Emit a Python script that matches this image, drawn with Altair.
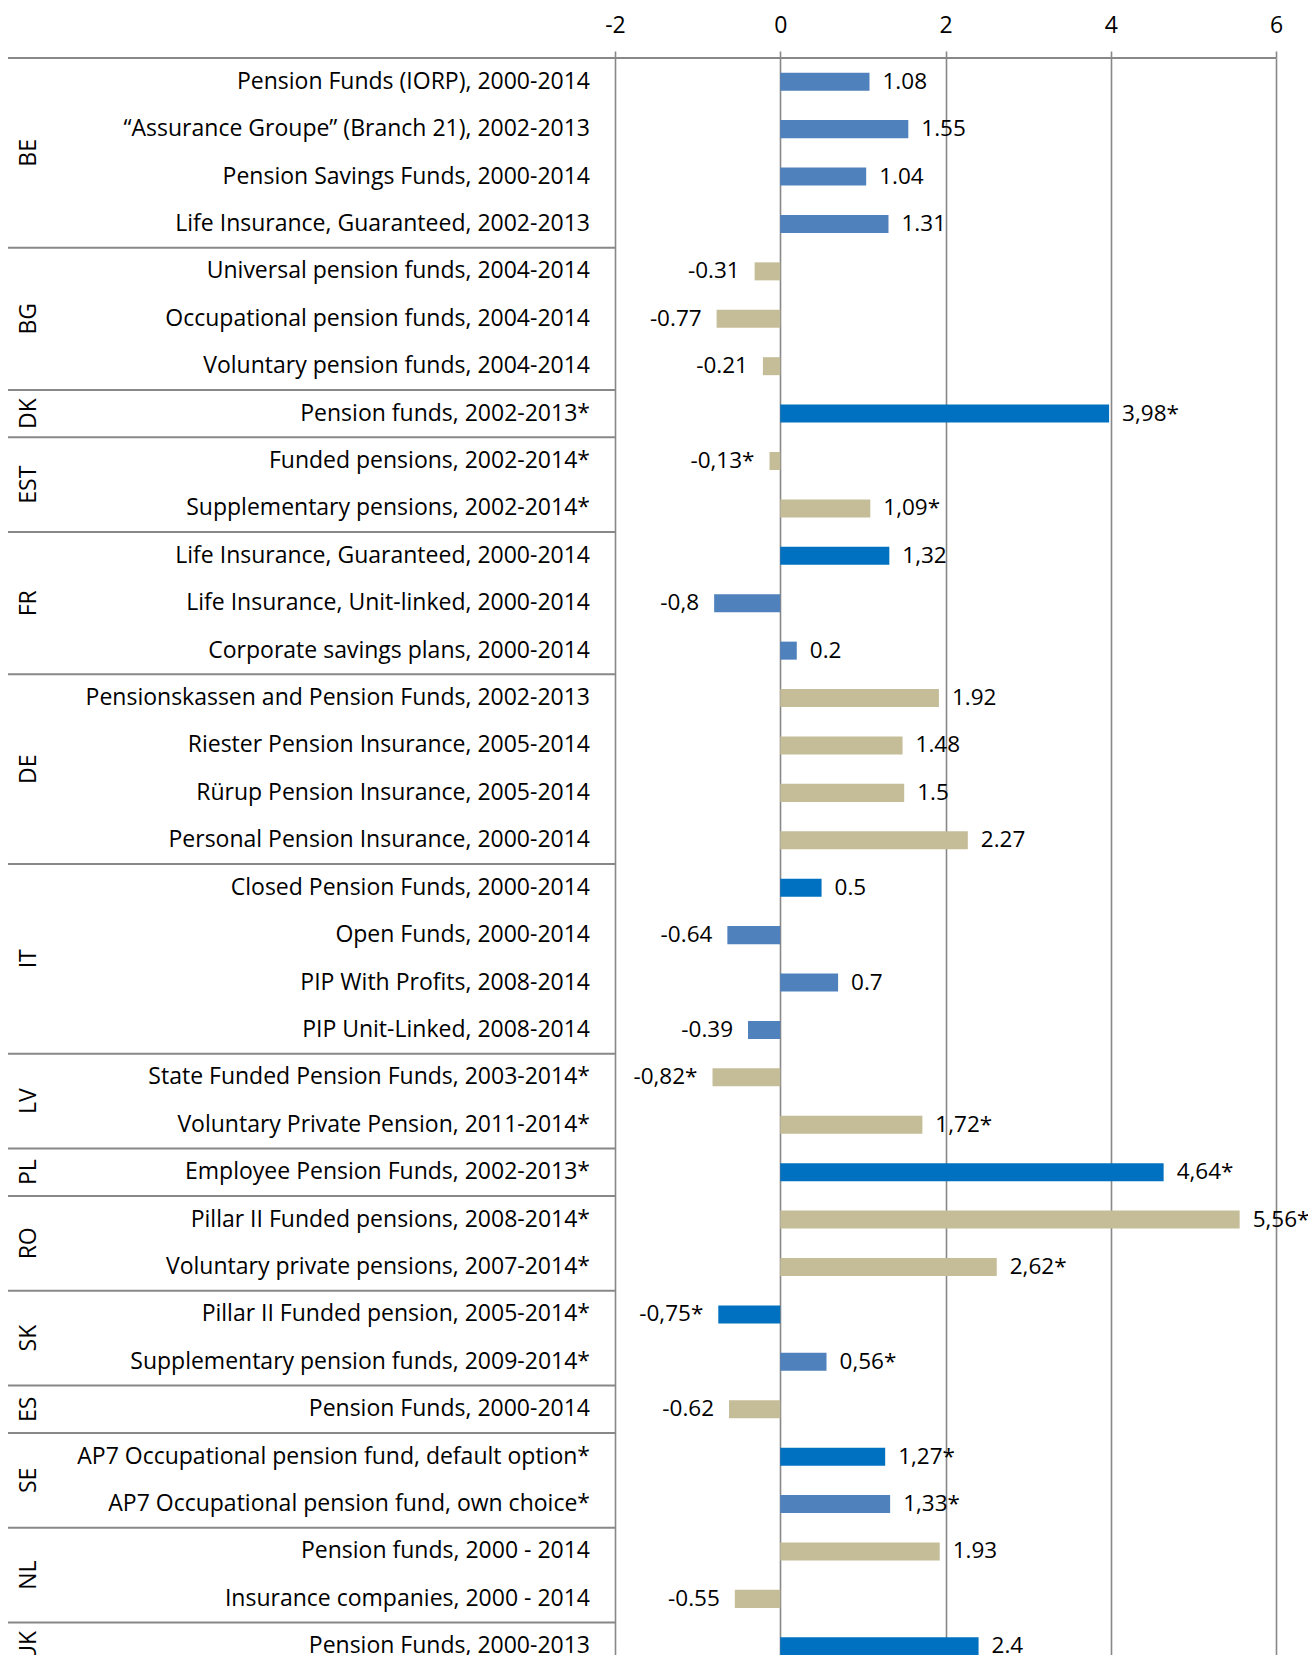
import altair as alt
import pandas as pd

countries = ["BE", "BG", "DK", "EST", "FR", "DE", "IT", "LV", "PL", "RO", "SK", "ES", "SE", "NL", "UK"]
group_sizes = [4, 3, 1, 2, 3, 4, 4, 2, 1, 2, 2, 1, 2, 2, 1]

items = [
    "Pension Funds (IORP), 2000-2014",
    "\u201cAssurance Groupe\u201d (Branch 21), 2002-2013",
    "Pension Savings Funds, 2000-2014",
    "Life Insurance, Guaranteed, 2002-2013",
    "Universal pension funds, 2004-2014",
    "Occupational pension funds, 2004-2014",
    "Voluntary pension funds, 2004-2014",
    "Pension funds, 2002-2013*",
    "Funded pensions, 2002-2014*",
    "Supplementary pensions, 2002-2014*",
    "Life Insurance, Guaranteed, 2000-2014",
    "Life Insurance, Unit-linked, 2000-2014",
    "Corporate savings plans, 2000-2014",
    "Pensionskassen and Pension Funds, 2002-2013",
    "Riester Pension Insurance, 2005-2014",
    "R\u00fcrup Pension Insurance, 2005-2014",
    "Personal Pension Insurance, 2000-2014",
    "Closed Pension Funds, 2000-2014",
    "Open Funds, 2000-2014",
    "PIP With Profits, 2008-2014",
    "PIP Unit-Linked, 2008-2014",
    "State Funded Pension Funds, 2003-2014*",
    "Voluntary Private Pension, 2011-2014*",
    "Employee Pension Funds, 2002-2013*",
    "Pillar II Funded pensions, 2008-2014*",
    "Voluntary private pensions, 2007-2014*",
    "Pillar II Funded pension, 2005-2014*",
    "Supplementary pension funds, 2009-2014*",
    "Pension Funds, 2000-2014",
    "AP7 Occupational pension fund, default option*",
    "AP7 Occupational pension fund, own choice*",
    "Pension funds, 2000 - 2014",
    "Insurance companies, 2000 - 2014",
    "Pension Funds, 2000-2013",
]

values = [1.08, 1.55, 1.04, 1.31, -0.31, -0.77, -0.21, 3.98, -0.13, 1.09,
          1.32, -0.8, 0.2, 1.92, 1.48, 1.5, 2.27, 0.5, -0.64, 0.7, -0.39,
          -0.82, 1.72, 4.64, 5.56, 2.62, -0.75, 0.56, -0.62, 1.27, 1.33,
          1.93, -0.55, 2.4]

value_labels = ["1.08", "1.55", "1.04", "1.31", "-0.31", "-0.77", "-0.21", "3,98*",
                "-0,13*", "1,09*", "1,32", "-0,8", "0.2", "1.92", "1.48", "1.5",
                "2.27", "0.5", "-0.64", "0.7", "-0.39", "-0,82*", "1,72*", "4,64*",
                "5,56*", "2,62*", "-0,75*", "0,56*", "-0.62", "1,27*", "1,33*",
                "1.93", "-0.55", "2.4"]

shades = ["light", "light", "light", "light", "tan", "tan", "tan", "dark", "tan", "tan",
          "dark", "light", "light", "tan", "tan", "tan", "tan", "dark", "light", "light",
          "light", "tan", "tan", "dark", "tan", "tan", "dark", "light", "tan", "dark",
          "light", "tan", "tan", "dark"]

x_ticks = [-2, 0, 2, 4, 6]

FONT = "Open Sans"
FS = 23
VFS = 22.5
GRID = "#888888"

df = pd.DataFrame({
    "row": list(range(len(items))),
    "item": items,
    "value": values,
    "label": value_labels,
    "shade": shades,
})

starts = []
s = 0
for n in group_sizes:
    starts.append(s)
    s += n
cdf = pd.DataFrame({"country": countries, "start": starts, "n": group_sizes})

# layout (pixels): keep the whole SVG inside the 1316x1663 window
PAD_L, PAD_T, PAD_R = 607, 50, 32
W = 661
ROWS_PX = 1612           # height spanned by all 34 rows (last row reaches the page bottom)
H = 1663 - 16 - PAD_T    # visible plot height
LEFT = -PAD_L

xscale = alt.Scale(domain=[-2, 6], nice=False, zero=False)
yscale = alt.Scale(domain=[0, len(items)], range=[0, ROWS_PX], nice=False, zero=False)

base = alt.Chart(df).transform_calculate(
    y0="datum.row + 0.31", y1="datum.row + 0.69", mid="datum.row + 0.5", zero="0"
)

bars = base.mark_bar().encode(
    x=alt.X("value:Q", scale=xscale,
            axis=alt.Axis(orient="top", values=x_ticks, labelExpr="'' + datum.value",
                          grid=True, gridColor=GRID, gridWidth=1.6, domain=False,
                          tickColor=GRID, tickWidth=1.6, tickSize=7, labelFontSize=FS,
                          labelFont=FONT, labelColor="black", labelPadding=14,
                          title=None, labelFlush=False)),
    x2="zero:Q",
    y=alt.Y("y0:Q", scale=yscale, axis=None),
    y2="y1:Q",
    color=alt.Color("shade:N",
                    scale=alt.Scale(domain=["light", "dark", "tan"],
                                    range=["#4F81BD", "#0070C0", "#C4BD97"]),
                    legend=None),
)

pos_labels = base.transform_filter("datum.value >= 0").mark_text(
    align="left", baseline="middle", dx=13, fontSize=VFS, font=FONT, color="black"
).encode(x=alt.X("value:Q", scale=xscale), y=alt.Y("mid:Q", scale=yscale), text="label:N")

neg_labels = base.transform_filter("datum.value < 0").mark_text(
    align="right", baseline="middle", dx=-15, fontSize=VFS, font=FONT, color="black"
).encode(x=alt.X("value:Q", scale=xscale), y=alt.Y("mid:Q", scale=yscale), text="label:N")

item_labels = base.mark_text(
    align="right", baseline="middle", fontSize=FS, font=FONT, color="black"
).encode(x=alt.value(-25), y=alt.Y("mid:Q", scale=yscale), text="item:N")

cbase = alt.Chart(cdf).transform_calculate(cmid="datum.start + datum.n / 2")

country_labels = cbase.mark_text(
    angle=270, align="center", baseline="middle", fontSize=FS, font=FONT, color="black"
).encode(x=alt.value(LEFT + 21), y=alt.Y("cmid:Q", scale=yscale), text="country:N")

separators = alt.Chart(cdf).transform_filter("datum.start > 0").mark_rule(
    color=GRID, strokeWidth=2
).encode(x=alt.value(LEFT), x2=alt.value(0), y=alt.Y("start:Q", scale=yscale))

top_line = alt.Chart(cdf).transform_filter("datum.start == 0").mark_rule(
    color=GRID, strokeWidth=2
).encode(x=alt.value(LEFT), x2=alt.value(W), y=alt.Y("start:Q", scale=yscale))

chart = alt.layer(
    bars, separators, top_line, pos_labels, neg_labels, item_labels, country_labels
).properties(
    width=W, height=H,
    autosize=alt.AutoSizeParams(type="none"),
    padding={"left": PAD_L, "top": PAD_T, "right": PAD_R, "bottom": 0},
).configure_view(stroke=None)

chart.save("out.html", embed_options={"renderer": "svg", "actions": False})
